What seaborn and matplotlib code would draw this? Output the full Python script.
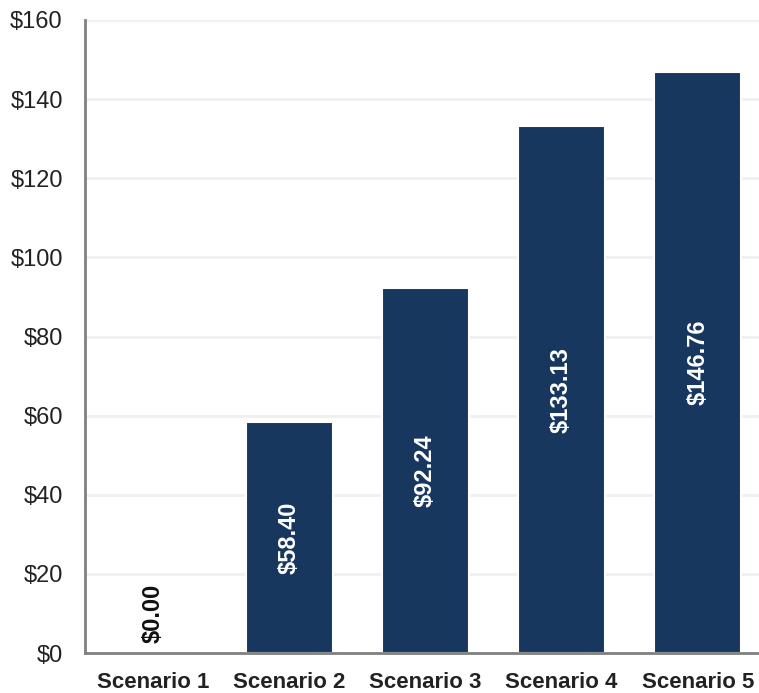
import matplotlib
matplotlib.use("Agg")
import matplotlib.pyplot as plt
import pandas as pd
import seaborn as sns

scenarios = ['Scenario 1', 'Scenario 2', 'Scenario 3', 'Scenario 4', 'Scenario 5']
values = [0.00, 58.40, 92.24, 133.13, 146.76]
y_ticks = [0, 20, 40, 60, 80, 100, 120, 140, 160]

bar_color = '#17375E'

sns.set_style('white')
plt.rcParams['font.family'] = ['Liberation Sans', 'DejaVu Sans']

data = pd.DataFrame({'scenario': scenarios, 'value': values})

fig = plt.figure(figsize=(7.59, 6.93), dpi=100)
ax = fig.add_axes([85 / 759, 40 / 693, 674 / 759, 633 / 693])

sns.barplot(data=data, x='scenario', y='value', color=bar_color, saturation=1,
            width=0.64, edgecolor='white', linewidth=1.5, ax=ax, zorder=3)

ax.set_ylim(0, 160)
ax.set_xlim(-0.5, 4.45)
ax.set_yticks(y_ticks)
ax.set_yticklabels([f'${t}' for t in y_ticks], fontsize=17, color='#222222')
ax.tick_params(axis='x', labelsize=16, pad=14, length=0)
ax.tick_params(axis='y', pad=16, length=0)
for lbl in ax.get_xticklabels():
    lbl.set_fontweight('bold')
    lbl.set_color('#222222')

ax.grid(axis='y', color='#F0F0F0', linewidth=2, zorder=0)
ax.set_axisbelow(True)
ax.set_xlabel('')
ax.set_ylabel('')

for side in ['top', 'right']:
    ax.spines[side].set_visible(False)
for side in ['left', 'bottom']:
    ax.spines[side].set_color('#808080')
    ax.spines[side].set_linewidth(2)
    ax.spines[side].set_zorder(6)

for i, v in enumerate(values):
    text = f'${v:.2f}'
    if v > 0:
        ax.text(i, v / 2, text, rotation=90, ha='center', va='center',
                color='white', fontsize=17, fontweight='bold', zorder=4)
    else:
        ax.text(i, 2.5, text, rotation=90, ha='center', va='bottom',
                color='#111111', fontsize=17, fontweight='bold', zorder=4)

fig.savefig('out.png', dpi=100)
